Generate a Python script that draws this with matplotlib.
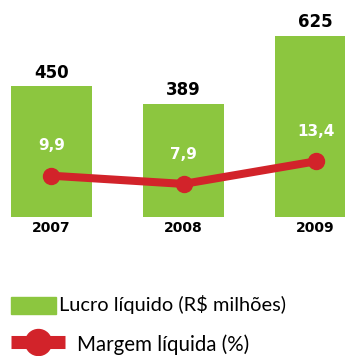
import matplotlib.pyplot as plt
from matplotlib.patches import Rectangle
from matplotlib.lines import Line2D

years = ["2007", "2008", "2009"]
lucro = [450, 389, 625]
margem = [9.9, 7.9, 13.4]
margem_labels = ["9,9", "7,9", "13,4"]

green = "#8cc63f"
red = "#d2232a"

fig = plt.figure(figsize=(3.45, 3.56), dpi=100)

# bar panel, bars partly run off the right edge
ax = fig.add_axes([0, 139 / 356, 1, 217 / 356])
x = list(range(len(years)))
ax.bar(x, lucro, width=0.614, color=green, zorder=1)
ax.set_xlim(-0.39, 2.223)
ax.set_ylim(0, 748)
ax.axis("off")

for xi, v, yr in zip(x, lucro, years):
    ax.annotate(str(v), (xi, v), xytext=(0, 10), textcoords="offset points",
                ha="center", va="center", fontsize=12, fontweight="bold",
                color="black", annotation_clip=False)
    ax.annotate(yr, (xi, 0), xytext=(0, -8), textcoords="offset points",
                ha="center", va="center", fontsize=10, fontweight="bold",
                color="black", annotation_clip=False)

# margin line on its own scale
ax2 = ax.twinx()
ax2.set_ylim(-0.17, 52.76)
ax2.axis("off")
ax2.plot(x, margem, color=red, lw=5.8, marker="o", ms=11.5,
         solid_capstyle="round", zorder=3)
for xi, m, lab in zip(x, margem, margem_labels):
    ax2.annotate(lab, (xi, m), xytext=(0, 21.5), textcoords="offset points",
                 ha="center", va="center", fontsize=11, fontweight="bold",
                 color="white")

# legend drawn in pixel space
leg = fig.add_axes([0, 0, 1, 1])
leg.set_xlim(0, 345)
leg.set_ylim(356, 0)
leg.axis("off")
leg.patch.set_alpha(0)
leg.add_patch(Rectangle((11, 297), 45, 17, color=green))
leg.text(59, 305, "Lucro líquido (R$ milhões)", fontsize=14.4,
         family="Lato", va="center", ha="left")
leg.add_line(Line2D([11, 65], [342, 342], color=red, lw=9.4,
                    solid_capstyle="butt"))
leg.plot([38], [342], marker="o", ms=18.7, color=red)
leg.text(77, 345, "Margem líquida (%)", fontsize=14.8,
         family="Lato", va="center", ha="left")

fig.savefig("out.png", dpi=100)
